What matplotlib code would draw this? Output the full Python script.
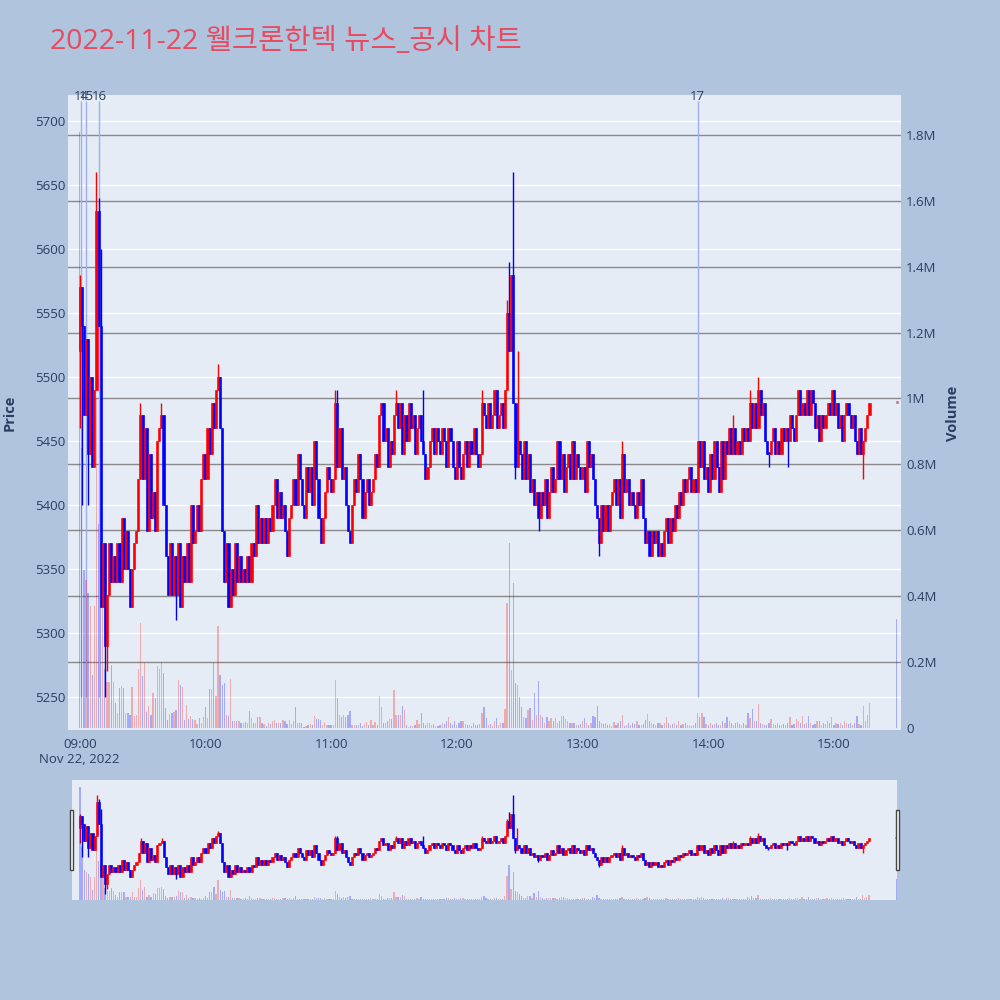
import numpy as np
import pandas as pd
import matplotlib
matplotlib.use("Agg")
import matplotlib.pyplot as plt
import matplotlib.transforms as mtransforms
from matplotlib.patches import Rectangle

plt.rcParams['font.family'] = ['Open Sans', 'Noto Sans CJK KR', 'DejaVu Sans']

# ---- data (1 minute candles, 2022-11-22) ----
first_open = 5520

c09 = [5570, 5540, 5470, 5530, 5440, 5500, 5430, 5490, 5630, 5540,
       5320, 5370, 5290, 5330, 5370, 5340, 5360, 5340, 5370, 5340,
       5390, 5350, 5380, 5350, 5320, 5350, 5370, 5380, 5420, 5470,
       5420, 5460, 5380, 5440, 5390, 5410, 5380, 5450, 5460, 5470,
       5400, 5360, 5330, 5370, 5330, 5360, 5330, 5370, 5320, 5360,
       5340, 5370, 5340, 5400, 5370, 5380, 5400, 5380, 5420, 5440]
c10 = [5420, 5460, 5440, 5480, 5460, 5490, 5500, 5460, 5380, 5340,
       5370, 5320, 5350, 5330, 5370, 5340, 5360, 5340, 5350, 5340,
       5360, 5340, 5370, 5360, 5400, 5370, 5390, 5370, 5390, 5370,
       5390, 5380, 5400, 5420, 5390, 5410, 5390, 5400, 5380, 5360,
       5390, 5400, 5420, 5400, 5440, 5420, 5400, 5390, 5430, 5410,
       5430, 5400, 5450, 5420, 5390, 5370, 5390, 5410, 5430, 5420]
c11 = [5410, 5420, 5480, 5430, 5460, 5420, 5430, 5400, 5380, 5370,
       5400, 5420, 5410, 5440, 5420, 5390, 5410, 5420, 5400, 5410,
       5420, 5440, 5430, 5470, 5480, 5450, 5460, 5430, 5450, 5440,
       5470, 5480, 5460, 5480, 5440, 5470, 5450, 5480, 5460, 5470,
       5440, 5460, 5470, 5450, 5440, 5420, 5430, 5450, 5460, 5440,
       5460, 5450, 5440, 5460, 5450, 5430, 5460, 5450, 5430, 5420]
c12 = [5450, 5430, 5420, 5440, 5450, 5430, 5450, 5440, 5460, 5440,
       5430, 5440, 5480, 5470, 5460, 5480, 5460, 5470, 5490, 5460,
       5470, 5480, 5460, 5490, 5550, 5520, 5580, 5480, 5430, 5450,
       5440, 5420, 5450, 5420, 5440, 5410, 5420, 5400, 5410, 5390,
       5410, 5400, 5420, 5390, 5410, 5430, 5410, 5420, 5450, 5420,
       5440, 5410, 5430, 5440, 5420, 5450, 5420, 5440, 5430, 5420]
c13 = [5430, 5410, 5450, 5430, 5440, 5420, 5400, 5390, 5370, 5400,
       5380, 5400, 5380, 5400, 5410, 5420, 5400, 5420, 5390, 5440,
       5410, 5420, 5400, 5410, 5400, 5390, 5410, 5400, 5420, 5390,
       5370, 5380, 5360, 5380, 5370, 5380, 5360, 5370, 5360, 5380,
       5390, 5370, 5390, 5380, 5400, 5390, 5410, 5400, 5420, 5410,
       5420, 5430, 5410, 5420, 5410, 5450, 5430, 5450, 5420, 5430]
c14 = [5410, 5440, 5420, 5450, 5430, 5410, 5450, 5420, 5450, 5440,
       5460, 5440, 5460, 5440, 5450, 5440, 5460, 5450, 5460, 5450,
       5480, 5460, 5480, 5460, 5490, 5470, 5480, 5450, 5440, 5440,
       5450, 5460, 5440, 5450, 5440, 5460, 5450, 5460, 5450, 5470,
       5460, 5450, 5470, 5490, 5470, 5480, 5470, 5490, 5470, 5490,
       5480, 5460, 5470, 5450, 5470, 5460, 5470, 5480, 5470, 5490]
c15 = [5470, 5480, 5460, 5470, 5450, 5470, 5480, 5470, 5460, 5470,
       5450, 5440, 5460, 5440, 5450, 5460, 5470, 5480]

# extra wick extremes (minute index, price)
wick_hi_min = [0, 1, 8, 9, 10, 29, 39, 66, 122, 123, 151, 164, 192, 204, 205, 207, 209, 259, 312, 320, 324, 343]
wick_hi_val = [5580, 5570, 5660, 5640, 5600, 5480, 5480, 5510, 5490, 5490, 5490, 5490, 5490, 5560, 5590, 5660, 5520, 5450, 5470, 5490, 5500, 5490]
wick_lo_min = [0, 1, 4, 12, 13, 46, 208, 219, 248, 329, 338, 374]
wick_lo_val = [5460, 5400, 5400, 5250, 5270, 5310, 5420, 5380, 5360, 5430, 5430, 5420]

# volume, thousands of shares
v09 = [1810, 850, 480, 450, 410, 370, 160, 370, 1000, 620,
       560, 440, 180, 140, 140, 190, 140, 75, 45, 120,
       128, 120, 45, 45, 40, 123, 35, 40, 180, 320,
       158, 200, 50, 67, 40, 105, 90, 188, 180, 200,
       168, 60, 25, 42, 45, 48, 56, 146, 130, 125,
       25, 70, 26, 35, 28, 24, 12, 30, 15, 32]
v10 = [63, 30, 117, 117, 196, 97, 310, 160, 130, 136,
       40, 35, 148, 20, 20, 20, 22, 16, 16, 19,
       16, 52, 30, 16, 16, 32, 32, 16, 12, 6,
       14, 12, 20, 24, 14, 16, 16, 24, 22, 12,
       24, 11, 21, 65, 16, 16, 14, 4, 6, 8,
       11, 8, 38, 26, 26, 24, 9, 19, 9, 8]
v11 = [10, 10, 146, 90, 40, 32, 40, 34, 40, 53,
       9, 8, 10, 8, 14, 6, 12, 18, 8, 24,
       9, 18, 10, 97, 63, 16, 14, 22, 26, 26,
       115, 41, 40, 40, 67, 55, 9, 4, 6, 6,
       10, 24, 12, 45, 15, 10, 16, 14, 9, 12,
       6, 6, 10, 16, 12, 20, 34, 14, 10, 22]
v12 = [9, 14, 22, 22, 12, 10, 9, 6, 14, 10,
       8, 12, 47, 63, 29, 10, 12, 6, 22, 31,
       9, 16, 14, 57, 380, 560, 176, 440, 138, 130,
       95, 63, 34, 30, 55, 60, 24, 105, 40, 143,
       40, 34, 16, 34, 20, 30, 20, 30, 16, 20,
       35, 35, 26, 20, 14, 16, 14, 8, 10, 12]
v13 = [20, 30, 14, 10, 16, 36, 32, 67, 20, 16,
       11, 14, 8, 12, 6, 18, 10, 14, 22, 40,
       6, 10, 14, 8, 16, 12, 20, 8, 10, 12,
       24, 43, 20, 14, 12, 8, 14, 14, 10, 16,
       32, 14, 8, 12, 16, 10, 22, 10, 12, 14,
       8, 10, 6, 8, 14, 45, 34, 46, 32, 12]
v14 = [8, 14, 10, 12, 16, 8, 10, 20, 14, 32,
       20, 14, 10, 14, 18, 12, 10, 14, 10, 46,
       30, 57, 22, 22, 72, 14, 12, 10, 8, 14,
       26, 12, 10, 14, 8, 10, 12, 10, 14, 34,
       10, 12, 26, 20, 14, 36, 12, 14, 36, 16,
       10, 12, 22, 22, 10, 14, 12, 22, 14, 34]
v15 = [10, 14, 12, 16, 10, 22, 16, 12, 16, 10,
       14, 36, 12, 10, 67, 20, 41, 75]

close_auction_time = "2022-11-22 15:30"
close_auction_price = 5480
close_auction_vol = 330

news_times = ["2022-11-22 09:00:36", "2022-11-22 09:03:12", "2022-11-22 09:09:12", "2022-11-22 13:54:54"]
news_labels = ["14", "15", "16", "17"]

title = "2022-11-22 웰크론한텍 뉴스_공시 차트"

# ---- build table ----
closes = c09 + c10 + c11 + c12 + c13 + c14 + c15
vols = v09 + v10 + v11 + v12 + v13 + v14 + v15
times = list(pd.date_range("2022-11-22 09:00", periods=len(closes), freq="min"))
times.append(pd.Timestamp(close_auction_time))
closes.append(close_auction_price)
vols.append(close_auction_vol)

df = pd.DataFrame({"time": times, "close": closes, "volume": np.array(vols) * 1000})
df["open"] = df["close"].shift(1).fillna(first_open)
df.loc[df.index[-1], "open"] = close_auction_price
df["high"] = df[["open", "close"]].max(axis=1)
df["low"] = df[["open", "close"]].min(axis=1)
for m, v in zip(wick_hi_min, wick_hi_val):
    df.loc[m, "high"] = max(df.loc[m, "high"], v)
for m, v in zip(wick_lo_min, wick_lo_val):
    df.loc[m, "low"] = min(df.loc[m, "low"], v)

t0 = pd.Timestamp("2022-11-22 09:00")
df["x"] = (df["time"] - t0).dt.total_seconds() / 60.0

RED = "#ff0000"
BLUE = "#0000ff"
up = df["close"] > df["open"]
ccol = np.where(up, RED, BLUE)
ccol[-1] = "#c07080"
vcol = np.where(df["close"].diff() > 0, RED, BLUE)

BG = "#b0c4de"
PLOT_BG = "#e5ecf6"
TXT = "#2a3f5f"

P_LIM = (5224.2, 5720.3)
V_LIM = (-6000, 1921000)
X_LIM = (-5.6, 391.8)


def draw_chart(ax, axv, body_min):
    body_h = np.maximum((df["close"] - df["open"]).abs(), body_min)
    body_b = df[["open", "close"]].min(axis=1)
    ax.vlines(df["x"], df["low"], df["high"], colors=ccol, lw=1.0, zorder=2)
    ax.bar(df["x"], body_h, bottom=body_b, width=1.0, color=ccol,
           edgecolor=ccol, linewidth=0.4, zorder=2)
    axv.bar(df["x"], df["volume"], width=0.6, color=vcol, alpha=0.28,
            linewidth=0, zorder=2)
    ax.set_ylim(*P_LIM)
    axv.set_ylim(*V_LIM)
    for a in (ax, axv):
        for s in a.spines.values():
            s.set_visible(False)


fig = plt.figure(figsize=(10, 10), dpi=100, facecolor=BG)

# main chart
rect = [0.068, 0.27, 0.8325, 0.635]
ax = fig.add_axes(rect)
ax.set_facecolor(PLOT_BG)
axv = ax.twinx()
draw_chart(ax, axv, 1.5)
ax.set_xlim(*X_LIM)

ax.set_axisbelow(True)
ax.set_yticks(np.arange(5250, 5701, 50))
ax.grid(axis="y", color="white", lw=1.0)
ax.grid(axis="x", visible=False)

vticks = np.arange(0, 1800001, 200000)
gtrans = mtransforms.blended_transform_factory(ax.transAxes, axv.transData)
for v in vticks[1:]:
    ax.plot([0, 1], [v, v], color="#8a8a8a", lw=1.0, transform=gtrans, zorder=0.8)
axv.set_yticks(vticks)
axv.set_yticklabels(["0"] + [("%.1fM" % (v / 1e6)).replace(".0M", "M") for v in vticks[1:]])

hours = np.arange(0, 361, 60)
ax.set_xticks(hours)
ax.set_xticklabels(["09:00\nNov 22, 2022", "10:00", "11:00", "12:00", "13:00", "14:00", "15:00"])

ax.tick_params(axis="y", length=0, labelsize=9.5, labelcolor=TXT, pad=2)
ax.tick_params(axis="x", length=0, labelsize=9.5, labelcolor=TXT, pad=6)
axv.tick_params(axis="y", length=0, labelsize=9.5, labelcolor=TXT, pad=4)

# news markers
nx = [(pd.Timestamp(t) - t0).total_seconds() / 60.0 for t in news_times]
ax.vlines(nx, 5250, 5716, colors="#9eaeee", lw=1.0, zorder=1.5)
ltrans = mtransforms.blended_transform_factory(ax.transData, ax.transAxes)
for xv, lab in zip(nx, news_labels):
    ax.text(xv, 0.997, lab, transform=ltrans, ha="center", va="center",
            fontsize=9.5, color=TXT)

fig.text(0.010, 0.587, "Price", rotation=90, ha="center", va="center",
         fontsize=10.5, fontweight="bold", color=TXT)
fig.text(0.953, 0.587, "Volume", rotation=90, ha="center", va="center",
         fontsize=10.5, fontweight="bold", color=TXT)

fig.text(0.05, 0.958, title, ha="left", va="center", fontsize=20.5, color="#e84a5f",
         family=["Open Sans", "Noto Sans CJK KR", "DejaVu Sans"])

# range slider
sl = fig.add_axes([0.072, 0.10, 0.825, 0.12])
sl.set_facecolor(PLOT_BG)
slv = sl.twinx()
draw_chart(sl, slv, 4)
sl.set_xlim(-3.8, 390.4)
for a in (sl, slv):
    a.set_xticks([])
    a.set_yticks([])

for hx in (0.0695, 0.8955):
    fig.add_artist(Rectangle((hx, 0.130), 0.0038, 0.060, transform=fig.transFigure,
                             facecolor="white", edgecolor="#444444", lw=1.0))

fig.savefig("out.png", dpi=100, facecolor=BG)
